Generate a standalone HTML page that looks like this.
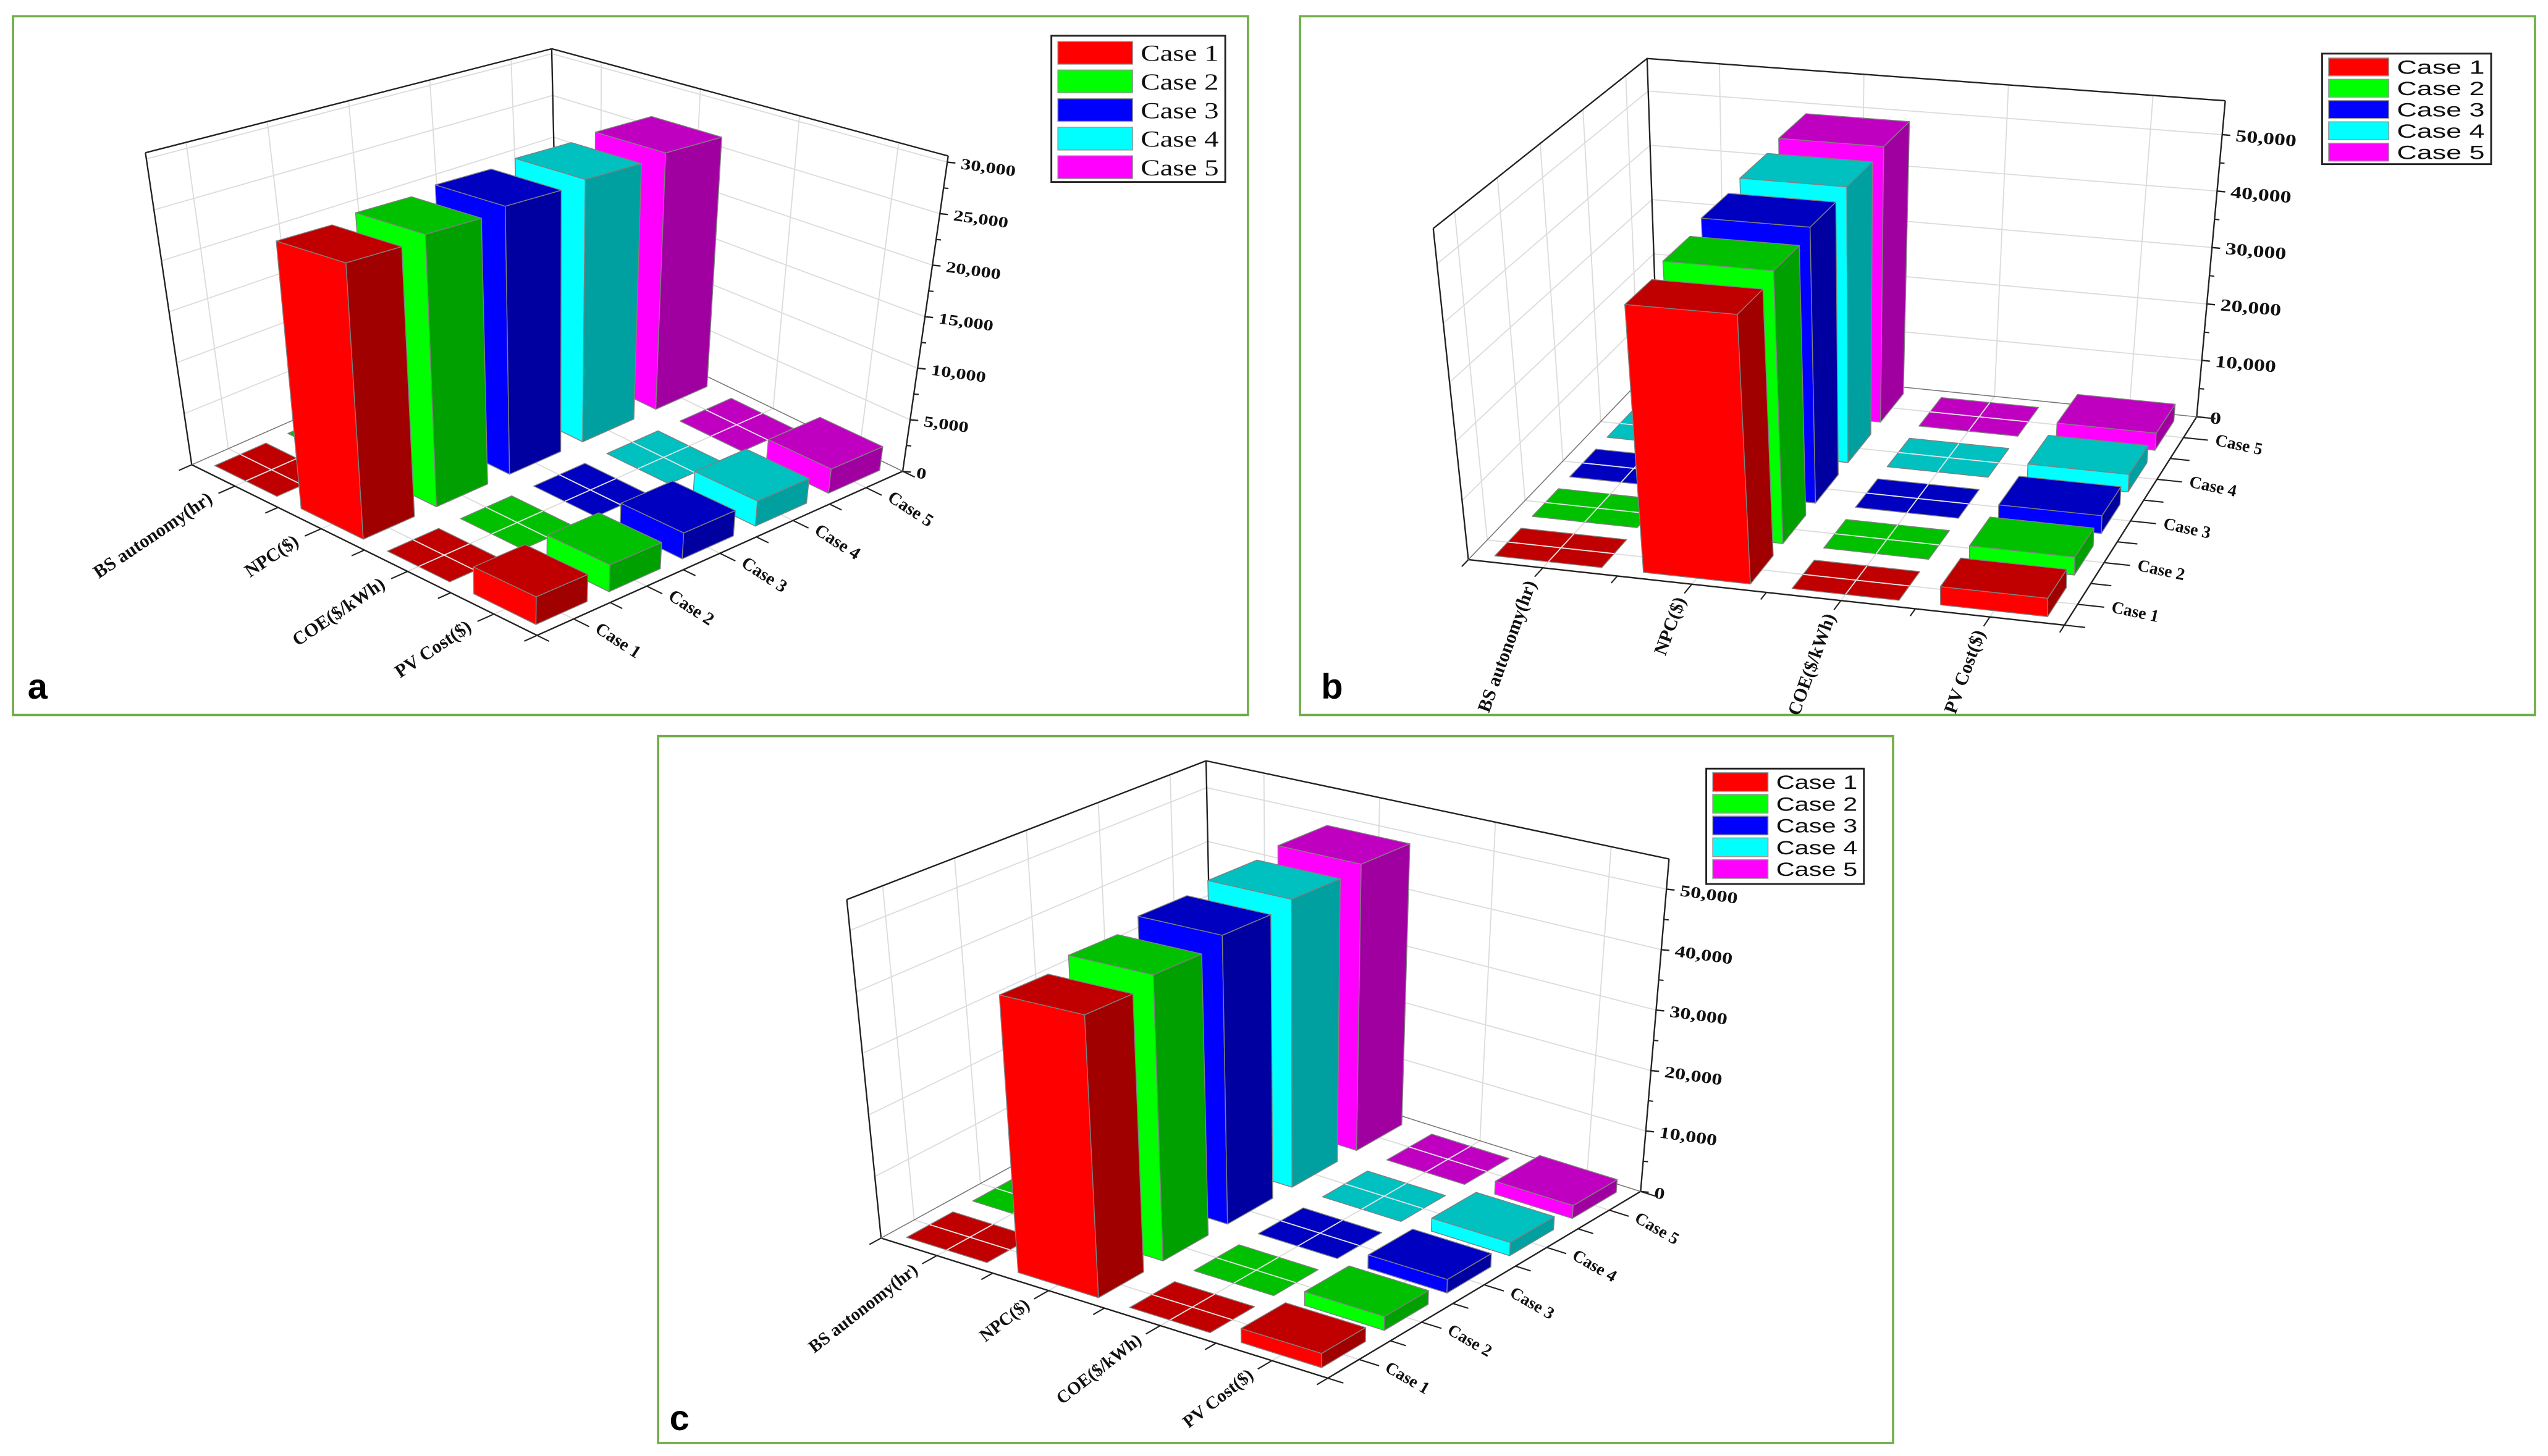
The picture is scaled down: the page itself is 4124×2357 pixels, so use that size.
<!DOCTYPE html>
<html><head><meta charset="utf-8">
<style>
html,body{margin:0;padding:0;background:#fff;}
svg{display:block;}
</style></head>
<body>
<svg id="fig" xmlns="http://www.w3.org/2000/svg" width="4124" height="2357" viewBox="0 0 1568 896" preserveAspectRatio="none"></svg>
<script>
// ---- data ----
const categories = ["BS autonomy(hr)", "NPC($)", "COE($/kWh)", "PV Cost($)"];
const caseNames = ["Case 1", "Case 2", "Case 3", "Case 4", "Case 5"];
const bsA = [24, 24, 24, 24, 24];
const npcA = [25000, 25500, 26000, 26400, 26800];
const coeA = [0.2, 0.2, 0.2, 0.2, 0.2];
const pvA = [2300, 2300, 2300, 2300, 2300];
const bsB = [24, 24, 24, 24, 24];
const npcB = [44900, 46200, 47500, 48300, 49100];
const coeB = [0.2, 0.2, 0.2, 0.2, 0.2];
const pvB = [3000, 3000, 3000, 3000, 3000];
const bsC = [24, 24, 24, 24, 24];
const npcC = [43900, 45500, 47100, 48200, 49200];
const coeC = [0.2, 0.2, 0.2, 0.2, 0.2];
const pvC = [2100, 2100, 2100, 2100, 2100];
const ticksA = [0, 5000, 10000, 15000, 20000, 25000, 30000];
const ticksBC = [0, 10000, 20000, 30000, 40000, 50000];

const NS = "http://www.w3.org/2000/svg";
const svg = document.getElementById('fig');
const bright = ["#ff0000","#00ff00","#0000ff","#00ffff","#ff00ff"];
const mid = ["#c00000","#00c000","#0000c0","#00c0c0","#c000c0"];
const dark = ["#a00000","#00a000","#0000a0","#00a0a0","#a000a0"];

function el(tag, attrs, parent){
  const e = document.createElementNS(NS, tag);
  for (const k in attrs) e.setAttribute(k, attrs[k]);
  (parent || svg).appendChild(e);
  return e;
}
function bil(P, u, v){
  return [(1-u)*(1-v)*P.L[0] + u*(1-v)*P.F[0] + u*v*P.R[0] + (1-u)*v*P.B[0],
          (1-u)*(1-v)*P.L[1] + u*(1-v)*P.F[1] + u*v*P.R[1] + (1-u)*v*P.B[1]];
}
function proj(cfg, u, v, w){
  const f = bil(cfg.floor, u, v), t = bil(cfg.top, u, v);
  return [f[0] + w*(t[0]-f[0]), f[1] + w*(t[1]-f[1])];
}
function pts(arr){ return arr.map(p => p[0].toFixed(2)+","+p[1].toFixed(2)).join(" "); }
function fmt(n){ return n.toLocaleString('en-US'); }

function drawPanel(cfg){
  const g = el('g', {});
  
  
  const P = (u,v,w) => proj(cfg, u, v, w);
  const zw = z => z / cfg.zmax;
  const fr = el('rect', {x:cfg.frame[0], y:cfg.frame[1], width:cfg.frame[2], height:cfg.frame[3], fill:'#fff', stroke:'#70ad47', 'stroke-width':1.4}, g);
  
  
  const grid = {stroke:'#dcdcdc', 'stroke-width':0.7, fill:'none'};
  for (const z of cfg.ticks){
    if (z === 0) continue;
    const l1 = el('polyline', Object.assign({points: pts([P(0,0,zw(z)), P(0,1,zw(z)), P(1,1,zw(z))])}, grid), g);
    
    
  }
  for (let k = 0; k < 5; k++){
    const v = k*0.2 + 0.1;
    const l2 = el('line', Object.assign({x1:P(0,v,0)[0], y1:P(0,v,0)[1], x2:P(0,v,1)[0], y2:P(0,v,1)[1]}, grid), g);
    
    
    const l3 = el('line', Object.assign({x1:P(0,v,0)[0], y1:P(0,v,0)[1], x2:P(1,v,0)[0], y2:P(1,v,0)[1]}, grid), g);
    
    
  }
  for (let c = 0; c < 4; c++){
    const u = c*0.25 + 0.125;
    const l4 = el('line', Object.assign({x1:P(u,1,0)[0], y1:P(u,1,0)[1], x2:P(u,1,1)[0], y2:P(u,1,1)[1]}, grid), g);
    
    
    const l5 = el('line', Object.assign({x1:P(u,0,0)[0], y1:P(u,0,0)[1], x2:P(u,1,0)[0], y2:P(u,1,0)[1]}, grid), g);
    
    
  }
  const ax = {stroke:'#222', 'stroke-width':0.9, fill:'none'};
  const edges = [[P(0,0,0),P(0,0,1)],[P(0,0,1),P(0,1,1)],[P(0,1,1),P(1,1,1)],[P(0,1,0),P(0,1,1)],[P(1,1,0),P(1,1,1)],[P(0,0,0),P(1,0,0)],[P(1,0,0),P(1,1,0)]];
  for (const e of edges){
    const a = el('line', Object.assign({x1:e[0][0], y1:e[0][1], x2:e[1][0], y2:e[1][1]}, ax), g);
    
    
  }
  const faint = [[P(0,0,0),P(0,1,0)],[P(0,1,0),P(1,1,0)]];
  for (const e of faint){
    const a = el('line', {x1:e[0][0], y1:e[0][1], x2:e[1][0], y2:e[1][1], stroke:'#777', 'stroke-width':0.6}, g);
    
    
  }
  for (let i = 0; i < cfg.ticks.length; i++){
    const z = cfg.ticks[i];
    const p = P(1,1,zw(z));
    const t = el('line', {x1:p[0], y1:p[1], x2:p[0]+5, y2:p[1]+0.5, stroke:'#222', 'stroke-width':0.9}, g);
    
    
    if (i < cfg.ticks.length-1){
      const pm = P(1,1,zw((z + cfg.ticks[i+1])/2));
      const tm = el('line', {x1:pm[0], y1:pm[1], x2:pm[0]+3, y2:pm[1]+0.3, stroke:'#222', 'stroke-width':0.8}, g);
      
      
    }
    const tx = el('text', {x:0, y:0, transform:`translate(${p[0]+8},${p[1]+4}) rotate(${cfg.zrot}) scale(1.3,1)`, 'font-family':'"Liberation Serif", serif', 'font-weight':'bold', 'font-size':cfg.zfs, fill:'#111'}, g);
    tx.textContent = fmt(z);
    
    
  }
  for (let c = 0; c <= 4; c++){
    const p = P(c*0.25,0,0), q = P(c*0.25,-0.035,0);
    const t = el('line', {x1:p[0], y1:p[1], x2:q[0], y2:q[1], stroke:'#222', 'stroke-width':0.8}, g);
    
    
  }
  for (let c = 0; c < 4; c++){
    const p = P(c*0.25+0.125, -0.045, 0);
    const t = el('line', {x1:P(c*0.25+0.125,0,0)[0], y1:P(c*0.25+0.125,0,0)[1], x2:p[0], y2:p[1], stroke:'#222', 'stroke-width':0.8}, g);
    
    
    const tx = el('text', {x:0, y:0, 'text-anchor':'end', transform:`translate(${p[0]+cfg.cOff[0]},${p[1]+cfg.cOff[1]}) rotate(${cfg.crot})`, 'font-family':'"Liberation Serif", serif', 'font-weight':'bold', 'font-size':cfg.cfs, fill:'#111'}, g);
    tx.textContent = categories[c];
    
    
  }
  for (let k = 0; k <= 5; k++){
    const p = P(1,k*0.2,0), q = P(1.035,k*0.2,0);
    const t = el('line', {x1:p[0], y1:p[1], x2:q[0], y2:q[1], stroke:'#222', 'stroke-width':0.8}, g);
    
    
  }
  for (let k = 0; k < 5; k++){
    const p0 = P(1,k*0.2+0.1,0), p = P(1.045, k*0.2+0.1, 0);
    const t = el('line', {x1:p0[0], y1:p0[1], x2:p[0], y2:p[1], stroke:'#222', 'stroke-width':0.8}, g);
    
    
    const tx = el('text', {x:0, y:0, transform:`translate(${p[0]+cfg.kOff[0]},${p[1]+cfg.kOff[1]}) rotate(${cfg.krot})`, 'font-family':'"Liberation Serif", serif', 'font-weight':'bold', 'font-size':cfg.kfs, fill:'#111'}, g);
    tx.textContent = caseNames[k];
    
    
  }
  const items = [];
  for (let c = 0; c < 4; c++) for (let k = 0; k < 5; k++) items.push({c, k, val: cfg.series[c][k]});
  items.sort((a,b) => ((a.c*0.25) - (a.k*0.2)) - ((b.c*0.25) - (b.k*0.2)));
  const st = {stroke:'#808080', 'stroke-width':0.55, 'stroke-linejoin':'round'};
  for (const it of items){
    const u0 = it.c*0.25+0.035, u1 = it.c*0.25+0.215, v0 = it.k*0.2+0.03, v1 = it.k*0.2+0.17;
    const w = zw(it.val);
    const bg = el('g', {}, g);
    
    
    if (w > 0.004){
      const f1 = el('polygon', Object.assign({points: pts([P(u0,v0,0),P(u1,v0,0),P(u1,v0,w),P(u0,v0,w)]), fill:bright[it.k]}, st), bg);
      
      
      const f2 = el('polygon', Object.assign({points: pts([P(u1,v0,0),P(u1,v1,0),P(u1,v1,w),P(u1,v0,w)]), fill:dark[it.k]}, st), bg);
      
      
    }
    const f3 = el('polygon', Object.assign({points: pts([P(u0,v0,w),P(u1,v0,w),P(u1,v1,w),P(u0,v1,w)]), fill:mid[it.k]}, st), bg);
    
    
    if (w <= 0.004){
      const uc = it.c*0.25+0.125, vc = it.k*0.2+0.1;
      const x1 = el('line', {x1:P(uc,v0,w)[0], y1:P(uc,v0,w)[1], x2:P(uc,v1,w)[0], y2:P(uc,v1,w)[1], stroke:'#e4e4e4', 'stroke-width':0.7}, bg);
      
      
      const x2 = el('line', {x1:P(u0,vc,w)[0], y1:P(u0,vc,w)[1], x2:P(u1,vc,w)[0], y2:P(u1,vc,w)[1], stroke:'#e4e4e4', 'stroke-width':0.7}, bg);
      
      
    }
  }
  const L = cfg.legend;
  const lg = el('g', {}, g);
  
  
  const lb = el('rect', {x:L.x, y:L.y, width:L.w, height:L.h, fill:'#fff', stroke:'#222', 'stroke-width':1.1}, lg);
  
  
  for (let k = 0; k < 5; k++){
    const cy = L.y0 + k*L.dy;
    const sw = el('rect', {x:L.sx, y:cy-L.sh/2, width:L.sw, height:L.sh, fill:bright[k], stroke:'#999', 'stroke-width':0.6}, lg);
    
    
    const tx = el('text', {x:L.tx, y:cy+L.fs*0.36, 'font-family':L.font, 'font-size':L.fs, fill:'#111', textLength:L.tl, lengthAdjust:'spacingAndGlyphs'}, lg);
    tx.textContent = caseNames[k];
    
    
  }
  const letter = el('text', {x:cfg.letter[0], y:cfg.letter[1], 'font-family':'"Liberation Sans", sans-serif', 'font-weight':'bold', 'font-size':22, fill:'#000'}, g);
  letter.textContent = cfg.letterText;
  
  
}

drawPanel({
  name:'panel-a', letterText:'a', letter:[17,430], frame:[8,10,760,430],
  floor:{L:[118,286],F:[330.5,391],R:[555.5,290],B:[343,187]},
  top:{L:[89.5,94],F:[333.5,162],R:[583.5,96],B:[339.5,30]},
  zmax:30600, ticks:ticksA, zrot:8, zfs:9.5,
  series:[bsA, npcA, coeA, pvA],
  crot:-34, cfs:11.5, cOff:[-3,5], krot:33, kfs:11, kOff:[3,3],
  legend:{x:647,y:22,w:107,h:90,sx:651,sw:46,sh:14,tx:702,tl:48,y0:32.5,dy:17.6,fs:14,font:'"Liberation Serif", serif'}
});
drawPanel({
  name:'panel-b', letterText:'b', letter:[813,430], frame:[800,10,760,430],
  floor:{L:[903.6,344.4],F:[1270.4,384.7],R:[1351.8,256.5],B:[1020,223]},
  top:{L:[882,140.6],F:[1272.8,173],R:[1369.4,62],B:[1013.6,36]},
  zmax:56000, ticks:ticksBC, zrot:5, zfs:10.5,
  series:[bsB, npcB, coeB, pvB],
  crot:-70, cfs:11.5, cOff:[1,4], krot:12, kfs:10.5, kOff:[4,3],
  legend:{x:1429,y:33,w:104,h:68,sx:1433,sw:37,sh:11,tx:1475,tl:54,y0:41.2,dy:13.1,fs:12,font:'"Liberation Sans", sans-serif'}
});
drawPanel({
  name:'panel-c', letterText:'c', letter:[412,880], frame:[405,453,760,435],
  floor:{L:[542.2,761.9],F:[817.1,848.1],R:[1009.6,733.2],B:[746,650]},
  top:{L:[521.1,553.6],F:[817.3,617],R:[1027.1,528.6],B:[742.2,468.2]},
  zmax:55000, ticks:ticksBC, zrot:8, zfs:10,
  series:[bsC, npcC, coeC, pvC],
  crot:-38, cfs:11, cOff:[-2,5], krot:30, kfs:10.5, kOff:[3,3],
  legend:{x:1050,y:473,w:97,h:71,sx:1054,sw:34,sh:11.5,tx:1093,tl:50,y0:481.2,dy:13.4,fs:12,font:'"Liberation Sans", sans-serif'}
});
</script>
</body></html>
